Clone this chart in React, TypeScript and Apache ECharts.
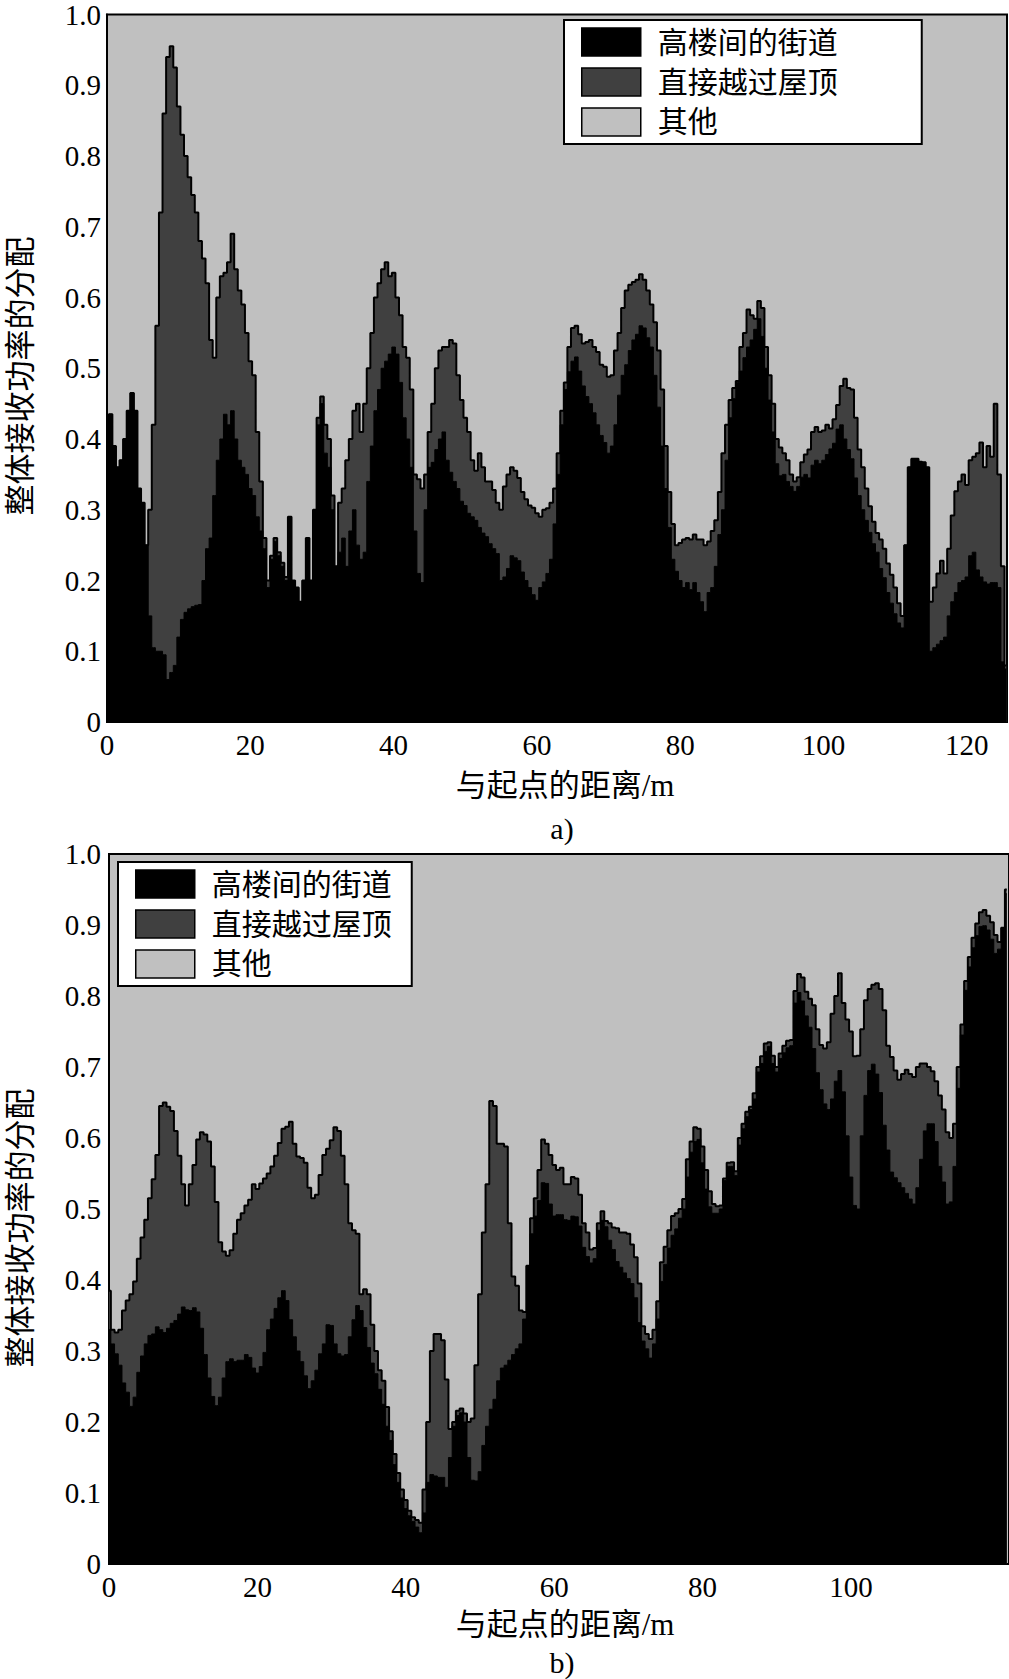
import React, { useEffect, useRef } from 'react';
import * as echarts from 'echarts';

const NAMES = ['高楼间的街道', '直接越过屋顶', '其他'];
const FILLS = ['#000000', '#404040', '#c0c0c0'];
const Y_LABEL = '整体接收功率的分配';
const X_LABEL = '与起点的距离/m';
const CAPTIONS = ['a)', 'b)'];
const SAMPLE_STEP_M = 0.5;

// Panel a): upper edge of the black band (street share)
const TOP_STREET = [
  0.40, 0.435, 0.39, 0.36, 0.37, 0.40, 0.44, 0.465, 0.44, 0.33,
  0.31, 0.25, 0.15, 0.105, 0.10, 0.10, 0.095, 0.06, 0.07, 0.08,
  0.12, 0.145, 0.155, 0.16, 0.163, 0.165, 0.166, 0.20, 0.245, 0.26,
  0.32, 0.37, 0.40, 0.435, 0.42, 0.44, 0.40, 0.37, 0.36, 0.35,
  0.33, 0.32, 0.29, 0.27, 0.245, 0.19, 0.23, 0.255, 0.235, 0.22,
  0.20, 0.29, 0.20, 0.19, 0.17, 0.20, 0.26, 0.20, 0.30, 0.42,
  0.45, 0.38, 0.36, 0.30, 0.22, 0.24, 0.26, 0.22, 0.27, 0.30,
  0.25, 0.23, 0.24, 0.34, 0.39, 0.44, 0.47, 0.50, 0.51, 0.52,
  0.53, 0.52, 0.48, 0.43, 0.40, 0.36, 0.27, 0.21, 0.197, 0.30,
  0.36, 0.367, 0.385, 0.40, 0.41, 0.37, 0.353, 0.34, 0.33, 0.312,
  0.306, 0.295, 0.29, 0.285, 0.275, 0.267, 0.262, 0.252, 0.245, 0.238,
  0.20, 0.205, 0.217, 0.235, 0.232, 0.228, 0.212, 0.20, 0.19, 0.18,
  0.172, 0.19, 0.198, 0.21, 0.23, 0.28, 0.35, 0.42, 0.47, 0.495,
  0.51, 0.516, 0.496, 0.475, 0.46, 0.45, 0.437, 0.42, 0.405, 0.395,
  0.38, 0.39, 0.42, 0.462, 0.49, 0.505, 0.525, 0.54, 0.548, 0.56,
  0.557, 0.543, 0.53, 0.49, 0.445, 0.39, 0.33, 0.275, 0.23, 0.213,
  0.20, 0.19, 0.197, 0.187, 0.197, 0.183, 0.17, 0.156, 0.183, 0.19,
  0.22, 0.265, 0.30, 0.37, 0.43, 0.457, 0.48, 0.496, 0.515, 0.53,
  0.54, 0.555, 0.57, 0.545, 0.50, 0.455, 0.41, 0.365, 0.348, 0.35,
  0.34, 0.333, 0.326, 0.333, 0.346, 0.35, 0.345, 0.363, 0.37, 0.365,
  0.37, 0.378, 0.386, 0.394, 0.414, 0.42, 0.40, 0.385, 0.372, 0.345,
  0.32, 0.30, 0.285, 0.268, 0.252, 0.24, 0.217, 0.204, 0.183, 0.168,
  0.153, 0.14, 0.133, 0.25, 0.36, 0.372, 0.372, 0.368, 0.367, 0.36,
  0.10, 0.105, 0.11, 0.115, 0.12, 0.15, 0.17, 0.183, 0.197, 0.20,
  0.205, 0.235, 0.24, 0.215, 0.205, 0.198, 0.195, 0.197, 0.197, 0.19,
  0.085, 0.075
];

// Panel a): upper edge of the dark grey band (street + rooftop)
const TOP_ROOF_UPPER = [
  0.40, 0.435, 0.39, 0.36, 0.37, 0.40, 0.44, 0.465, 0.44, 0.33,
  0.31, 0.25, 0.30, 0.42, 0.56, 0.72, 0.86, 0.94, 0.955, 0.925,
  0.87, 0.83, 0.80, 0.77, 0.745, 0.72, 0.68, 0.655, 0.62, 0.54,
  0.515, 0.60, 0.63, 0.635, 0.65, 0.69, 0.64, 0.61, 0.59, 0.55,
  0.51, 0.49, 0.41, 0.34, 0.26, 0.20, 0.235, 0.26, 0.24, 0.225,
  0.205, 0.29, 0.20, 0.19, 0.17, 0.20, 0.26, 0.20, 0.30, 0.43,
  0.46, 0.42, 0.40, 0.32, 0.22, 0.31, 0.33, 0.37, 0.40, 0.44,
  0.45, 0.41, 0.45, 0.50, 0.55, 0.60, 0.62, 0.64, 0.65, 0.63,
  0.635, 0.60, 0.575, 0.53, 0.515, 0.47, 0.35, 0.343, 0.33, 0.35,
  0.41, 0.45, 0.50, 0.525, 0.53, 0.53, 0.54, 0.535, 0.49, 0.455,
  0.43, 0.41, 0.37, 0.355, 0.38, 0.36, 0.34, 0.34, 0.328, 0.31,
  0.30, 0.333, 0.35, 0.36, 0.355, 0.345, 0.325, 0.315, 0.306, 0.303,
  0.295, 0.29, 0.30, 0.302, 0.31, 0.33, 0.38, 0.44, 0.48, 0.53,
  0.557, 0.56, 0.548, 0.535, 0.537, 0.54, 0.53, 0.523, 0.505, 0.502,
  0.488, 0.49, 0.525, 0.55, 0.585, 0.61, 0.618, 0.622, 0.625, 0.633,
  0.625, 0.61, 0.59, 0.565, 0.525, 0.47, 0.39, 0.325, 0.28, 0.25,
  0.253, 0.258, 0.26, 0.258, 0.265, 0.258, 0.258, 0.25, 0.255, 0.27,
  0.285, 0.325, 0.38, 0.42, 0.455, 0.472, 0.482, 0.53, 0.55, 0.583,
  0.575, 0.57, 0.595, 0.585, 0.53, 0.49, 0.45, 0.40, 0.388, 0.38,
  0.37, 0.35, 0.34, 0.346, 0.367, 0.378, 0.385, 0.41, 0.417, 0.41,
  0.412, 0.42, 0.415, 0.428, 0.448, 0.475, 0.485, 0.472, 0.47, 0.43,
  0.385, 0.36, 0.33, 0.305, 0.283, 0.267, 0.258, 0.245, 0.224, 0.208,
  0.19, 0.168, 0.15, 0.25, 0.36, 0.372, 0.372, 0.368, 0.367, 0.36,
  0.17, 0.19, 0.21, 0.228, 0.21, 0.245, 0.292, 0.326, 0.34, 0.35,
  0.335, 0.37, 0.375, 0.38, 0.395, 0.36, 0.39, 0.375, 0.45, 0.35,
  0.22, 0.08
];

// Panel b): upper edge of the black band (street share)
const BOT_STREET = [
  0.33, 0.31, 0.296, 0.28, 0.255, 0.242, 0.222, 0.235, 0.27, 0.293,
  0.31, 0.322, 0.324, 0.334, 0.33, 0.326, 0.332, 0.339, 0.343, 0.352,
  0.362, 0.358, 0.357, 0.361, 0.355, 0.332, 0.295, 0.262, 0.236, 0.223,
  0.235, 0.262, 0.285, 0.289, 0.285, 0.287, 0.287, 0.295, 0.291, 0.276,
  0.269, 0.278, 0.298, 0.33, 0.345, 0.36, 0.375, 0.385, 0.371, 0.344,
  0.32, 0.30, 0.285, 0.265, 0.247, 0.258, 0.273, 0.296, 0.31, 0.337,
  0.336, 0.31, 0.296, 0.293, 0.295, 0.32, 0.344, 0.364, 0.357, 0.333,
  0.305, 0.283, 0.268, 0.246, 0.225, 0.194, 0.174, 0.14, 0.115, 0.093,
  0.078, 0.068, 0.06, 0.052, 0.044, 0.072, 0.115, 0.126, 0.124, 0.122,
  0.122, 0.108, 0.15, 0.194, 0.209, 0.213, 0.20, 0.15, 0.118, 0.117,
  0.13, 0.167, 0.194, 0.218, 0.232, 0.258, 0.276, 0.28, 0.287, 0.295,
  0.303, 0.31, 0.345, 0.42, 0.465, 0.49, 0.512, 0.537, 0.536, 0.507,
  0.49, 0.492, 0.492, 0.485, 0.484, 0.49, 0.489, 0.476, 0.446, 0.433,
  0.424, 0.43, 0.47, 0.484, 0.475, 0.456, 0.443, 0.426, 0.418, 0.41,
  0.402, 0.395, 0.375, 0.34, 0.314, 0.303, 0.29, 0.31, 0.345, 0.398,
  0.422, 0.445, 0.463, 0.472, 0.487, 0.50, 0.545, 0.58, 0.595, 0.598,
  0.565, 0.528, 0.503, 0.494, 0.494, 0.50, 0.54, 0.56, 0.56, 0.547,
  0.59, 0.613, 0.63, 0.64, 0.655, 0.693, 0.705, 0.722, 0.729, 0.705,
  0.693, 0.712, 0.72, 0.727, 0.73, 0.79, 0.805, 0.793, 0.772, 0.756,
  0.726, 0.692, 0.668, 0.648, 0.64, 0.655, 0.68, 0.695, 0.665, 0.603,
  0.545, 0.505, 0.50, 0.603, 0.66, 0.695, 0.704, 0.69, 0.664, 0.618,
  0.583, 0.552, 0.544, 0.537, 0.53, 0.522, 0.514, 0.507, 0.53, 0.57,
  0.61, 0.62, 0.62, 0.595, 0.56, 0.538, 0.507, 0.51, 0.56, 0.67,
  0.745, 0.808, 0.841, 0.868, 0.885, 0.898, 0.899, 0.893, 0.88, 0.86,
  0.866, 0.896, 0.944
];

// Panel b): upper edge of the dark grey band (street + rooftop)
const BOT_ROOF_UPPER = [
  0.385, 0.33, 0.326, 0.33, 0.357, 0.371, 0.38, 0.398, 0.43, 0.46,
  0.485, 0.515, 0.542, 0.576, 0.645, 0.65, 0.644, 0.638, 0.61, 0.575,
  0.535, 0.505, 0.535, 0.562, 0.598, 0.608, 0.605, 0.595, 0.56, 0.51,
  0.453, 0.44, 0.434, 0.442, 0.465, 0.485, 0.494, 0.505, 0.513, 0.535,
  0.528, 0.536, 0.543, 0.55, 0.56, 0.575, 0.593, 0.613, 0.616, 0.623,
  0.592, 0.574, 0.572, 0.565, 0.53, 0.515, 0.52, 0.548, 0.576, 0.585,
  0.597, 0.615, 0.61, 0.575, 0.535, 0.48, 0.47, 0.465, 0.38, 0.387,
  0.38, 0.337, 0.30, 0.273, 0.258, 0.221, 0.187, 0.155, 0.128, 0.105,
  0.09, 0.075, 0.066, 0.062, 0.058, 0.105, 0.20, 0.30, 0.324, 0.324,
  0.315, 0.26, 0.19, 0.20, 0.216, 0.219, 0.212, 0.20, 0.205, 0.28,
  0.38, 0.467, 0.535, 0.652, 0.645, 0.592, 0.592, 0.588, 0.48, 0.405,
  0.392, 0.357, 0.355, 0.42, 0.487, 0.515, 0.555, 0.598, 0.592, 0.576,
  0.562, 0.555, 0.558, 0.535, 0.535, 0.545, 0.543, 0.52, 0.48, 0.467,
  0.443, 0.445, 0.48, 0.497, 0.483, 0.48, 0.474, 0.473, 0.467, 0.467,
  0.465, 0.45, 0.432, 0.395, 0.335, 0.324, 0.317, 0.33, 0.37, 0.425,
  0.447, 0.47, 0.49, 0.494, 0.50, 0.514, 0.57, 0.595, 0.615, 0.613,
  0.588, 0.555, 0.525, 0.507, 0.504, 0.505, 0.543, 0.565, 0.566, 0.553,
  0.60, 0.62, 0.637, 0.644, 0.663, 0.70, 0.715, 0.733, 0.735, 0.716,
  0.70, 0.719, 0.73, 0.737, 0.738, 0.807, 0.831, 0.826, 0.806, 0.796,
  0.787, 0.753, 0.731, 0.726, 0.735, 0.775, 0.80, 0.832, 0.79, 0.767,
  0.75, 0.715, 0.716, 0.753, 0.794, 0.81, 0.816, 0.818, 0.81, 0.78,
  0.73, 0.714, 0.695, 0.682, 0.69, 0.696, 0.69, 0.686, 0.70, 0.705,
  0.705, 0.70, 0.694, 0.68, 0.66, 0.64, 0.608, 0.60, 0.62, 0.70,
  0.76, 0.821, 0.855, 0.882, 0.902, 0.918, 0.921, 0.913, 0.904, 0.886,
  0.876, 0.896, 0.95
];

const FONT = "'Liberation Serif', 'Noto Sans CJK SC', serif";

function toPairs(values: number[]) {
  return values.map((v, i) => [i * SAMPLE_STEP_M, v]);
}

function buildOption() {
  const yAxisCommon = (gridIndex: number, margin: number) => ({
    type: 'value',
    gridIndex,
    min: 0,
    max: 1,
    interval: 0.1,
    axisLine: { show: true, lineStyle: { color: '#000', width: 2 } },
    axisTick: { show: false },
    splitLine: { show: false },
    axisLabel: {
      color: '#000',
      fontFamily: FONT,
      fontSize: 29,
      margin,
      formatter: (v: number) => (v === 0 ? '0' : v.toFixed(1)),
    },
  });

  const legendCommon = (left: number, top: number, padding: number[]) => ({
    orient: 'vertical',
    left,
    top,
    padding,
    itemWidth: 59,
    itemHeight: 28,
    itemGap: 10,
    icon: 'rect',
    backgroundColor: '#fff',
    borderColor: '#000',
    borderWidth: 2,
    borderRadius: 0,
    selectedMode: false,
    textStyle: { color: '#000', fontFamily: FONT, fontSize: 30, padding: [0, 0, 0, 12] },
    data: NAMES.map((name, i) => ({
      name,
      itemStyle: { color: FILLS[i], borderColor: '#000', borderWidth: 1.5 },
    })),
  });

  const panelSeries = (idx: number, street: number[], roofUpper: number[]) => [
    {
      type: 'line',
      name: NAMES[1],
      xAxisIndex: idx,
      yAxisIndex: idx,
      data: toPairs(roofUpper),
      symbol: 'none',
      showSymbol: false,
      step: 'middle',
      z: 2,
      itemStyle: { color: FILLS[1] },
      lineStyle: { color: '#000', width: 2 },
      areaStyle: { color: FILLS[1], opacity: 1, origin: 'start' },
    },
    {
      type: 'line',
      name: NAMES[0],
      xAxisIndex: idx,
      yAxisIndex: idx,
      data: toPairs(street),
      symbol: 'none',
      showSymbol: false,
      step: 'middle',
      z: 3,
      itemStyle: { color: FILLS[0] },
      lineStyle: { color: '#000', width: 1 },
      areaStyle: { color: FILLS[0], opacity: 1, origin: 'start' },
    },
  ];

  const textEl = (text: string, x: number, y: number, fontSize: number, rotation = 0) => ({
    type: 'text',
    x,
    y,
    rotation,
    style: {
      text,
      fill: '#000',
      fontFamily: FONT,
      fontSize,
      align: 'center',
      verticalAlign: 'middle',
    },
  });

  return {
    animation: false,
    backgroundColor: '#fff',
    grid: [
      { left: 107, top: 10, width: 900, height: 712, show: true, backgroundColor: FILLS[2], borderColor: '#000', borderWidth: 2 },
      { left: 109, top: 854, width: 900, height: 710, show: true, backgroundColor: FILLS[2], borderColor: '#000', borderWidth: 2 },
    ],
    xAxis: [
      {
        type: 'value',
        gridIndex: 0,
        min: 0,
        max: 125.6,
        interval: 20,
        axisLine: { show: true, onZero: false, lineStyle: { color: '#000', width: 2 } },
        axisTick: { show: false },
        splitLine: { show: false },
        axisLabel: {
          color: '#000',
          fontFamily: FONT,
          fontSize: 29,
          margin: 8,
          showMaxLabel: false,
          formatter: (v: number) => (v % 20 === 0 ? String(v) : ''),
        },
      },
      {
        type: 'value',
        gridIndex: 1,
        min: 0,
        max: 121.3,
        interval: 20,
        axisLine: { show: true, onZero: false, lineStyle: { color: '#000', width: 2 } },
        axisTick: { show: false },
        splitLine: { show: false },
        axisLabel: {
          color: '#000',
          fontFamily: FONT,
          fontSize: 29,
          margin: 8,
          showMaxLabel: false,
          formatter: (v: number) => (v % 20 === 0 && v <= 100 ? String(v) : ''),
        },
      },
    ],
    yAxis: [yAxisCommon(0, 6), yAxisCommon(1, 8)],
    legend: [legendCommon(564, 20, [7, 84, 7, 17]), legendCommon(118, 862, [7, 20, 7, 17])],
    series: [
      ...panelSeries(0, TOP_STREET, TOP_ROOF_UPPER),
      ...panelSeries(1, BOT_STREET, BOT_ROOF_UPPER),
      { type: 'line', name: NAMES[2], xAxisIndex: 0, yAxisIndex: 0, data: [], itemStyle: { color: FILLS[2] } },
    ],
    graphic: [
      textEl(Y_LABEL, 20, 376, 31, Math.PI / 2),
      textEl(X_LABEL, 565, 785, 31),
      textEl(CAPTIONS[0], 562, 828, 30),
      textEl(Y_LABEL, 20, 1228, 31, Math.PI / 2),
      textEl(X_LABEL, 565, 1624, 31),
      textEl(CAPTIONS[1], 562, 1662, 30),
    ],
  };
}

export default function App() {
  const ref = useRef<HTMLDivElement>(null);
  useEffect(() => {
    if (!ref.current) return;
    const chart = echarts.init(ref.current, null, { renderer: 'svg' });
    chart.setOption(buildOption() as any);
    return () => chart.dispose();
  }, []);
  return (
    <div
      ref={ref}
      style={{ position: 'absolute', left: 0, top: 0, width: 1009, height: 1679, background: '#fff' }}
    />
  );
}
